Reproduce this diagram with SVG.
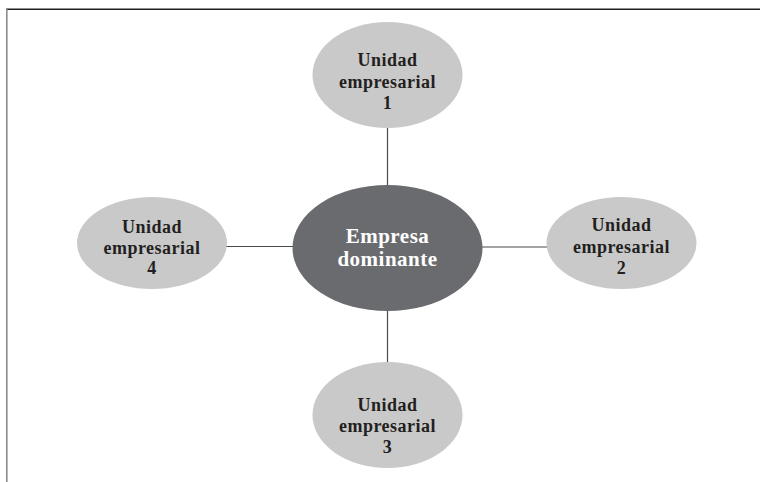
<svg xmlns="http://www.w3.org/2000/svg" width="760" height="482" viewBox="0 0 760 482">
<style>
.unit{fill:#c9c9ca}
.dom{fill:#6a6b6e}
.lbl{font-family:"Liberation Serif","DejaVu Serif",serif;font-weight:bold;font-size:18px;letter-spacing:0.5px;fill:#231f20;text-anchor:middle}
.dlbl{font-family:"Liberation Serif","DejaVu Serif",serif;font-weight:bold;font-size:21px;letter-spacing:0.5px;fill:#ffffff;text-anchor:middle}
.conn line{stroke:#4a4a4a;stroke-width:1.2}
</style>
<rect width="760" height="482" fill="#ffffff"/>
<line x1="6" y1="9.3" x2="760" y2="9.3" stroke="#1e1e1e" stroke-width="1.6"/>
<line x1="6.8" y1="9" x2="6.8" y2="482" stroke="#8a8a8a" stroke-width="1.6"/>
<g id="connectors" class="conn">
<line x1="387.5" y1="127" x2="387.5" y2="186"/>
<line x1="387.5" y1="310" x2="387.5" y2="363"/>
<line x1="226" y1="246.5" x2="294" y2="246.5"/>
<line x1="481" y1="247" x2="547" y2="247"/>
</g>
<g id="dominante">
<ellipse class="dom" cx="387.5" cy="248" rx="95" ry="63"/>
<text class="dlbl" x="387.5" y="243">Empresa</text>
<text class="dlbl" x="387.5" y="266">dominante</text>
</g>
<g id="unidad1">
<ellipse class="unit" cx="387.5" cy="75" rx="75" ry="53"/>
<text class="lbl" x="387.5" y="66">Unidad</text>
<text class="lbl" x="387.5" y="87.5">empresarial</text>
<text class="lbl" x="387.5" y="109">1</text>
</g>
<g id="unidad2">
<ellipse class="unit" cx="621.5" cy="243" rx="75" ry="46"/>
<text class="lbl" x="621.5" y="231">Unidad</text>
<text class="lbl" x="621.5" y="252.5">empresarial</text>
<text class="lbl" x="621.5" y="274">2</text>
</g>
<g id="unidad3">
<ellipse class="unit" cx="387.5" cy="415" rx="75" ry="53"/>
<text class="lbl" x="387.5" y="410.5">Unidad</text>
<text class="lbl" x="387.5" y="432">empresarial</text>
<text class="lbl" x="387.5" y="453">3</text>
</g>
<g id="unidad4">
<ellipse class="unit" cx="152" cy="243" rx="75" ry="46"/>
<text class="lbl" x="152" y="232.5">Unidad</text>
<text class="lbl" x="152" y="253.5">empresarial</text>
<text class="lbl" x="152" y="274">4</text>
</g>
</svg>
